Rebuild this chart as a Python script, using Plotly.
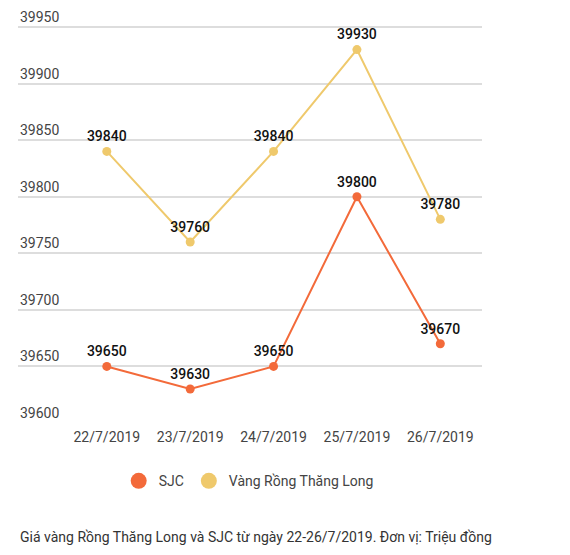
import plotly.graph_objects as go

dates = ["22/7/2019", "23/7/2019", "24/7/2019", "25/7/2019", "26/7/2019"]
sjc = [39650, 39630, 39650, 39800, 39670]
rong_thang_long = [39840, 39760, 39840, 39930, 39780]
y_ticks = [39600, 39650, 39700, 39750, 39800, 39850, 39900, 39950]

ORANGE = "#F36A3A"
YELLOW = "#EFC96C"
FONT = "Roboto"

fig = go.Figure()

for name, values, color in [("SJC", sjc, ORANGE),
                            ("Vàng Rồng Thăng Long", rong_thang_long, YELLOW)]:
    fig.add_trace(go.Scatter(
        x=dates, y=values, mode="lines+markers+text",
        line=dict(color=color, width=2),
        marker=dict(color=color, size=9),
        text=[str(v) for v in values],
        textposition="top center",
        textfont=dict(family=FONT, size=14, color="#111", weight=500),
        cliponaxis=False,
        showlegend=False,
    ))
    # legend-only entry so the legend shows a plain big dot
    fig.add_trace(go.Scatter(
        x=[None], y=[None], mode="markers", name=name,
        marker=dict(color=color, size=18),
    ))

# y labels sit above their gridlines; plotly hides inside tick labels at the
# very top, so they are drawn as annotations instead
annotations = [dict(text=str(v), xref="paper", yref="y", x=0, y=v,
                    xanchor="left", yanchor="middle", yshift=10, showarrow=False,
                    font=dict(family=FONT, size=14, color="#444"))
               for v in y_ticks]
annotations.append(dict(
    text="Giá vàng Rồng Thăng Long và SJC từ ngày 22-26/7/2019. Đơn vị: Triệu đồng",
    xref="paper", yref="paper", x=0, y=-0.276, xanchor="left", yanchor="middle",
    showarrow=False, font=dict(family=FONT, size=14, color="#333"),
))

fig.update_layout(
    width=570, height=555,
    margin=dict(l=10, r=96, t=2, b=140),
    paper_bgcolor="white", plot_bgcolor="white",
    font=dict(family=FONT, size=14, color="#444"),
    showlegend=True,
    legend=dict(orientation="h", x=0.217, xanchor="left", y=-0.141, yanchor="middle",
                font=dict(family=FONT, size=14, color="#444"), itemsizing="trace"),
    xaxis=dict(type="category", range=[-1.065, 4.5], showgrid=False, zeroline=False,
               showline=False, ticks="", ticklabelstandoff=4,
               tickfont=dict(size=14, color="#444")),
    yaxis=dict(range=[39600, 39965], tickvals=y_ticks, showticklabels=False,
               gridcolor="#DDDDDD", gridwidth=1.5, zeroline=False, showline=False),
    annotations=annotations,
)

fig.write_html("out.html")
